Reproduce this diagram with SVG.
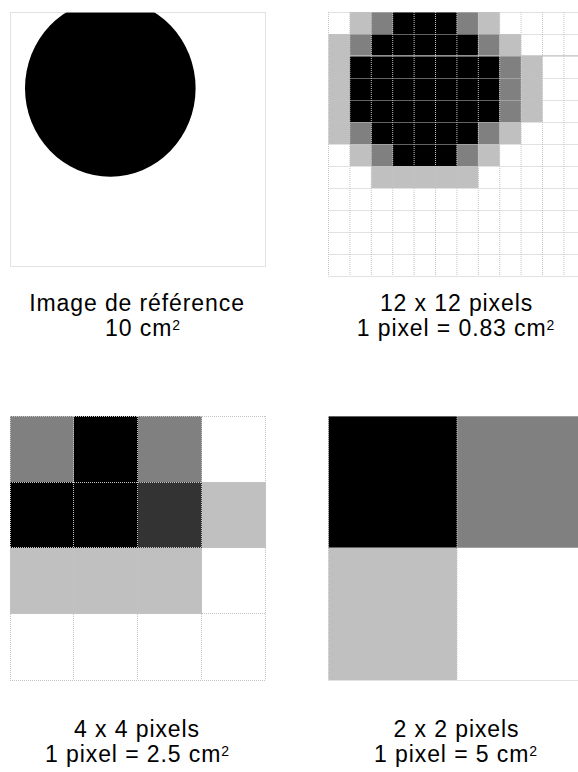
<svg xmlns="http://www.w3.org/2000/svg" width="578" height="772" viewBox="0 0 578 772">
<style>
.L{fill:#c0c0c0}.D{fill:#808080}.B{fill:#000}.K{fill:#333}
.g{stroke:#c4c4c4;stroke-width:1;stroke-dasharray:1 1;fill:none}
.t{font-family:"Liberation Sans",Arial,sans-serif;font-size:23px;letter-spacing:0.9px;fill:#000;text-anchor:middle}
.s{font-size:14px}
</style>
<defs>
<clipPath id="c1"><rect x="10" y="12.3" width="256" height="255"/></clipPath>
</defs>
<rect width="578" height="772" fill="#fff"/>

<g id="reference">
<ellipse cx="110.3" cy="88.2" rx="85.3" ry="88.5" class="B" clip-path="url(#c1)"/>
<rect x="10.5" y="12.5" width="255" height="254" class="g"/>
<text class="t" x="137" y="311">Image de référence</text>
<text class="t" x="143" y="335.5">10 cm<tspan class="s" dy="-6">2</tspan></text>
</g>

<g id="grid12">
<rect class="L" x="349.9" y="12" width="21.4" height="22"/>
<rect class="D" x="371.3" y="12" width="21.4" height="22"/>
<rect class="B" x="392.7" y="12" width="64.2" height="22"/>
<rect class="D" x="456.9" y="12" width="21.4" height="22"/>
<rect class="L" x="478.3" y="12" width="21.4" height="22"/>
<rect class="L" x="328.5" y="34" width="21.4" height="110"/>
<rect class="D" x="349.9" y="34" width="21.4" height="22"/>
<rect class="B" x="371.3" y="34" width="107" height="22"/>
<rect class="D" x="478.3" y="34" width="21.4" height="22"/>
<rect class="L" x="499.7" y="34" width="21.4" height="22"/>
<rect class="B" x="349.9" y="56" width="149.8" height="66"/>
<rect class="D" x="499.7" y="56" width="21.4" height="66"/>
<rect class="L" x="521.1" y="56" width="21.4" height="66"/>
<rect class="D" x="349.9" y="122" width="21.4" height="22"/>
<rect class="B" x="371.3" y="122" width="107" height="22"/>
<rect class="D" x="478.3" y="122" width="21.4" height="22"/>
<rect class="L" x="499.7" y="122" width="21.4" height="22"/>
<rect class="L" x="349.9" y="144" width="21.4" height="22"/>
<rect class="D" x="371.3" y="144" width="21.4" height="22"/>
<rect class="B" x="392.7" y="144" width="64.2" height="22"/>
<rect class="D" x="456.9" y="144" width="21.4" height="22"/>
<rect class="L" x="478.3" y="144" width="21.4" height="22"/>
<rect class="L" x="371.3" y="166" width="107" height="22"/>
<path class="g" d="M328.5 12V276M349.9 12V276M371.3 12V276M392.7 12V276M414.1 12V276M435.5 12V276M456.9 12V276M478.3 12V276M499.7 12V276M521.1 12V276M542.5 12V276M563.9 12V276
M328.5 12.5H585M328.5 34.5H585M328.5 78.5H585M328.5 100.5H585M328.5 122.5H585M328.5 144.5H585M328.5 166.5H585M328.5 188.5H585M328.5 210.5H585M328.5 232.5H585M328.5 254.5H585M328.5 276.5H585"/>
<path d="M349.9 55.8H578" stroke="#c0c0c0" stroke-width="1.2" fill="none"/>
<text class="t" x="456.5" y="311">12 x 12 pixels</text>
<text class="t" x="456" y="335.5">1 pixel = 0.83 cm<tspan class="s" dy="-6">2</tspan></text>
</g>

<g id="grid4">
<rect class="D" x="10" y="416" width="64" height="66"/>
<rect class="B" x="74" y="416" width="64" height="66"/>
<rect class="D" x="138" y="416" width="64" height="66"/>
<rect class="B" x="10" y="482" width="128" height="66"/>
<rect class="K" x="138" y="482" width="64" height="66"/>
<rect class="L" x="202" y="482" width="64" height="66"/>
<rect class="L" x="10" y="548" width="192" height="66"/>
<path class="g" d="M10.5 416V680M73.5 416V680M137.5 416V680M201.5 416V680M265.5 416V680M10 416.5H266M10 482.5H266M10 547.5H266M10 613.5H266M10 680.5H266"/>
<text class="t" x="137" y="736.5">4 x 4 pixels</text>
<text class="t" x="137.5" y="761.5">1 pixel = 2.5 cm<tspan class="s" dy="-6">2</tspan></text>
</g>

<g id="grid2">
<rect class="B" x="328.5" y="416" width="128.5" height="132"/>
<rect class="D" x="457" y="416" width="128.5" height="132"/>
<rect class="L" x="328.5" y="548" width="128.5" height="132"/>
<path class="g" d="M328.5 416V680M457 416V680M328.5 416.5H585M328.5 547.5H585M328.5 680.5H585"/>
<text class="t" x="456.5" y="736.5">2 x 2 pixels</text>
<text class="t" x="456" y="761.5">1 pixel = 5 cm<tspan class="s" dy="-6">2</tspan></text>
</g>
</svg>
